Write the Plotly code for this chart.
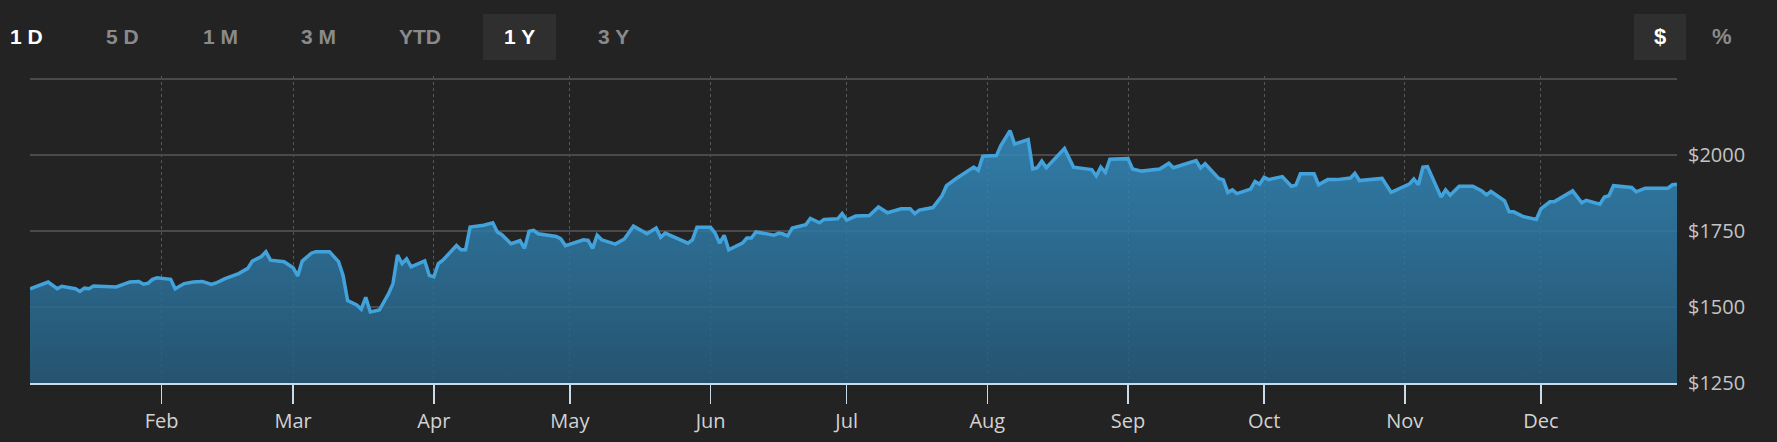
import plotly.graph_objects as go

# ---------------- data ----------------
dates = [
    "2020-01-03", "2020-01-07", "2020-01-09", "2020-01-10", "2020-01-13", "2020-01-14",
    "2020-01-15", "2020-01-16", "2020-01-17", "2020-01-22", "2020-01-24", "2020-01-25",
    "2020-01-27", "2020-01-28", "2020-01-29", "2020-01-30", "2020-01-31", "2020-02-03",
    "2020-02-04", "2020-02-06", "2020-02-08", "2020-02-10", "2020-02-12", "2020-02-13",
    "2020-02-15", "2020-02-18", "2020-02-20", "2020-02-21", "2020-02-23", "2020-02-24",
    "2020-02-25", "2020-02-27", "2020-02-28", "2020-03-01", "2020-03-02", "2020-03-03",
    "2020-03-05", "2020-03-06", "2020-03-09", "2020-03-11", "2020-03-12", "2020-03-13",
    "2020-03-15", "2020-03-16", "2020-03-17", "2020-03-18", "2020-03-19", "2020-03-20",
    "2020-03-22", "2020-03-23", "2020-03-24", "2020-03-25", "2020-03-26", "2020-03-27",
    "2020-03-30", "2020-03-31", "2020-04-01", "2020-04-02", "2020-04-03", "2020-04-06",
    "2020-04-07", "2020-04-08", "2020-04-09", "2020-04-12", "2020-04-14", "2020-04-15",
    "2020-04-16", "2020-04-18", "2020-04-20", "2020-04-21", "2020-04-22", "2020-04-23",
    "2020-04-24", "2020-04-28", "2020-04-29", "2020-04-30", "2020-05-04", "2020-05-05",
    "2020-05-06", "2020-05-07", "2020-05-08", "2020-05-11", "2020-05-13", "2020-05-15",
    "2020-05-18", "2020-05-20", "2020-05-21", "2020-05-22", "2020-05-27", "2020-05-28",
    "2020-05-29", "2020-06-01", "2020-06-02", "2020-06-03", "2020-06-04", "2020-06-05",
    "2020-06-08", "2020-06-09", "2020-06-10", "2020-06-11", "2020-06-15", "2020-06-16",
    "2020-06-17", "2020-06-18", "2020-06-19", "2020-06-22", "2020-06-23", "2020-06-25",
    "2020-06-26", "2020-06-29", "2020-06-30", "2020-07-01", "2020-07-03", "2020-07-06",
    "2020-07-08", "2020-07-10", "2020-07-13", "2020-07-15", "2020-07-16", "2020-07-17",
    "2020-07-20", "2020-07-22", "2020-07-23", "2020-07-25", "2020-07-29", "2020-07-30",
    "2020-07-31", "2020-08-03", "2020-08-04", "2020-08-06", "2020-08-07", "2020-08-10",
    "2020-08-11", "2020-08-12", "2020-08-13", "2020-08-14", "2020-08-18", "2020-08-20",
    "2020-08-24", "2020-08-25", "2020-08-26", "2020-08-27", "2020-08-28", "2020-09-01",
    "2020-09-02", "2020-09-04", "2020-09-08", "2020-09-10", "2020-09-11", "2020-09-16",
    "2020-09-17", "2020-09-18", "2020-09-21", "2020-09-22", "2020-09-23", "2020-09-24",
    "2020-09-25", "2020-09-28", "2020-09-29", "2020-09-30", "2020-10-01", "2020-10-02",
    "2020-10-05", "2020-10-07", "2020-10-08", "2020-10-09", "2020-10-12", "2020-10-13",
    "2020-10-15", "2020-10-17", "2020-10-20", "2020-10-21", "2020-10-22", "2020-10-27",
    "2020-10-29", "2020-10-31", "2020-11-02", "2020-11-03", "2020-11-04", "2020-11-05",
    "2020-11-06", "2020-11-09", "2020-11-10", "2020-11-11", "2020-11-13", "2020-11-16",
    "2020-11-18", "2020-11-19", "2020-11-20", "2020-11-23", "2020-11-24", "2020-11-25",
    "2020-11-27", "2020-11-30", "2020-12-01", "2020-12-03", "2020-12-04", "2020-12-08",
    "2020-12-10", "2020-12-11", "2020-12-14", "2020-12-15", "2020-12-16", "2020-12-17",
    "2020-12-21", "2020-12-22", "2020-12-24", "2020-12-29", "2020-12-30", "2020-12-31",
]

prices = [
    1560, 1582, 1560, 1568, 1560, 1551,
    1562, 1560, 1569, 1566, 1577, 1582,
    1584, 1575, 1578, 1591, 1596, 1591,
    1560, 1577, 1582, 1584, 1574, 1579,
    1593, 1610, 1627, 1651, 1666, 1682,
    1654, 1649, 1649, 1629, 1602, 1651,
    1677, 1682, 1682, 1649, 1604, 1521,
    1507, 1493, 1532, 1484, 1486, 1490,
    1543, 1577, 1671, 1643, 1658, 1632,
    1652, 1604, 1599, 1643, 1654, 1702,
    1688, 1688, 1763, 1769, 1777, 1747,
    1738, 1708, 1718, 1693, 1749, 1752,
    1741, 1732, 1724, 1702, 1721, 1719,
    1693, 1736, 1721, 1707, 1724, 1766,
    1741, 1760, 1729, 1743, 1710, 1721,
    1762, 1762, 1743, 1710, 1736, 1688,
    1710, 1727, 1727, 1747, 1736, 1743,
    1740, 1734, 1760, 1771, 1791, 1777,
    1788, 1790, 1807, 1786, 1799, 1801,
    1829, 1810, 1823, 1823, 1807, 1819,
    1827, 1866, 1899, 1921, 1960, 1949,
    1996, 1998, 2032, 2080, 2036, 2051,
    1954, 1958, 1980, 1958, 2021, 1960,
    1952, 1931, 1960, 1943, 1986, 1988,
    1954, 1947, 1954, 1973, 1958, 1982,
    1957, 1971, 1923, 1918, 1877, 1885,
    1873, 1888, 1913, 1904, 1927, 1919,
    1929, 1897, 1901, 1938, 1938, 1902,
    1919, 1919, 1924, 1940, 1916, 1923,
    1877, 1891, 1904, 1921, 1902, 1960,
    1962, 1862, 1885, 1868, 1897, 1897,
    1882, 1869, 1880, 1849, 1813, 1813,
    1798, 1788, 1823, 1846, 1847, 1882,
    1843, 1851, 1838, 1862, 1866, 1899,
    1893, 1879, 1891, 1891, 1902, 1904,
]

y_tick_values = [1250, 1500, 1750, 2000, 2250]
y_tick_labels = ["$1250", "$1500", "$1750", "$2000", ""]

range_buttons = ["1 D", "5 D", "1 M", "3 M", "YTD", "1 Y", "3 Y"]
unit_buttons = ["$", "%"]

# ---------------- layout geometry ----------------
W, H = 1777, 442
ML, MR, MT, MB = 30, 100, 76, 59
PW, PH = W - ML - MR, H - MT - MB
PX_PER_DOLLAR = 0.304          # vertical scale measured on the reference
Y_MIN = 1250
Y_MAX = Y_MIN + PH / PX_PER_DOLLAR


def px_x(px):
    return (px - ML) / PW


def px_y(py):
    return (H - MB - py) / PH


BG = "#232323"

fig = go.Figure()
fig.add_trace(go.Scatter(
    x=dates, y=prices, mode="lines",
    line=dict(color="#42a3dc", width=3.5),
    fill="tozeroy",
    fillgradient=dict(
        type="vertical",
        colorscale=[[0, "rgba(38,92,125,0.85)"], [1, "rgba(52,142,194,0.85)"]],
        start=1250, stop=2100,
    ),
    hoverinfo="skip", showlegend=False,
))

# header buttons
btn_x_px = [26, 122, 220, 318, 420, 519, 613]
btn_colors = ["#ffffff", "#8a8a8a", "#8a8a8a", "#8a8a8a", "#8a8a8a", "#ffffff", "#8a8a8a"]
unit_x_px = [1660, 1722]
unit_colors = ["#ffffff", "#8a8a8a"]

shapes = [
    dict(type="rect", xref="paper", yref="paper",
         x0=px_x(483), x1=px_x(556), y0=px_y(60), y1=px_y(14),
         fillcolor="#2f2f2f", line=dict(width=0), layer="below"),
    dict(type="rect", xref="paper", yref="paper",
         x0=px_x(1634), x1=px_x(1686), y0=px_y(60), y1=px_y(14),
         fillcolor="#2f2f2f", line=dict(width=0), layer="below"),
]

annotations = []
for label, xp, col in zip(range_buttons, btn_x_px, btn_colors):
    annotations.append(dict(
        text=label, xref="paper", yref="paper", x=px_x(xp), y=px_y(37),
        xanchor="center", yanchor="middle", showarrow=False,
        font=dict(family="Liberation Sans, Arial, sans-serif", size=21, color=col, weight="bold"),
    ))
for label, xp, col in zip(unit_buttons, unit_x_px, unit_colors):
    annotations.append(dict(
        text=label, xref="paper", yref="paper", x=px_x(xp), y=px_y(37),
        xanchor="center", yanchor="middle", showarrow=False,
        font=dict(family="Liberation Sans, Arial, sans-serif", size=22, color=col, weight="bold"),
    ))

fig.update_layout(
    width=W, height=H,
    margin=dict(l=ML, r=MR, t=MT, b=MB, pad=0, autoexpand=False),
    paper_bgcolor=BG, plot_bgcolor=BG,
    showlegend=False,
    hovermode=False,
    shapes=shapes,
    annotations=annotations,
    xaxis=dict(
        type="date",
        range=["2020-01-03", "2020-12-31"],
        tick0="2020-01-01", dtick="M1", tickformat="%b",
        ticks="outside", ticklen=19, tickwidth=1.5, tickcolor="#c8dbe8",
        showline=True, linecolor="#c8dbe8", linewidth=2,
        showgrid=True, gridcolor="#575757", griddash="dot", gridwidth=1,
        zeroline=False,
        tickfont=dict(family="Open Sans, sans-serif", size=20, color="#d2d2d2"),
        fixedrange=True,
    ),
    yaxis=dict(
        side="right",
        range=[Y_MIN, Y_MAX],
        tickmode="array", tickvals=y_tick_values, ticktext=y_tick_labels,
        ticks="", ticklabelstandoff=10,
        showgrid=True, gridcolor="#4a4a4a", gridwidth=2,
        zeroline=False, showline=False,
        tickfont=dict(family="Open Sans, sans-serif", size=20, color="#c4c4c4"),
        fixedrange=True,
    ),
)

fig.write_html(
    "out.html",
    config={"displayModeBar": False, "staticPlot": True},
    post_script="document.body.style.margin='0';document.body.style.background='#232323';",
)
